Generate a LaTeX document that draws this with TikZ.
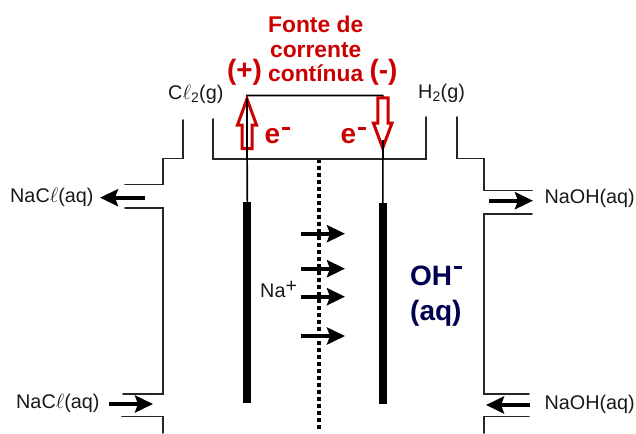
\documentclass[tikz,border=0pt]{standalone}
\usepackage{amsmath,amssymb,amsfonts}
\usepackage{fontspec}
\setmainfont{Liberation Sans}
\usepackage{tikz}
\usetikzlibrary{arrows.meta}
\definecolor{fontered}{RGB}{204,0,0}
\definecolor{ionblue}{RGB}{0,0,80}
\newcommand{\sizept}[1]{\fontsize{#1}{#1}\selectfont}
\newcommand{\bigminus}[1]{\kern1.5pt\raisebox{#1}{\rule{8.5pt}{3.2pt}}}
\tikzset{
  wall/.style={line width=1.6pt, line cap=round, draw=black!85},
  flow/.style={line width=4pt, -{Stealth[length=18pt,width=17pt,inset=3pt]}, shorten >=-1pt},
  hollow/.style={line width=3pt, draw=fontered, fill=white, line join=miter},
  label/.style={inner sep=0pt, text=black!90, font=\sizept{19.8}},
  redbold/.style={inner sep=0pt, text=fontered, font=\bfseries\sizept{28}},
}
\begin{document}
\begin{tikzpicture}[x=1pt,y=-1pt]
\useasboundingbox (0,0) rectangle (636,433);
% electrodes and wires
\coordinate (PT) at (247,95.5);
\coordinate (NT) at (382.7,95.5);
\coordinate (PE) at (247.3,202);
\coordinate (NE) at (382.9,203);
\coordinate (PB) at (247.3,403);
\coordinate (NB) at (382.9,404);
\draw[line width=1.6pt] (PE) -- (PT) -- (NT) -- (NE);
\draw[line width=8pt] (PE) -- (PB);
\draw[line width=7.5pt] (NE) -- (NB);
% membrane
\coordinate (MT) at (319,159);
\coordinate (MB) at (319,431);
\draw[line width=3.8pt, dash pattern=on 3.6pt off 3.4pt] (MT) -- (MB);
% cell walls
\draw[wall] (213,119) -- (213,159) -- (426,159) -- (426,117);
\draw[wall] (182.7,120) -- (182.7,158.5) -- (163,158.5) -- (163,184.5) -- (125,184.5);
\draw[wall] (125,208) -- (163,208) -- (163,394) -- (123,394);
\draw[wall] (122,416.5) -- (163,416.5) -- (163,433);
\draw[wall] (457,117) -- (457,158.5) -- (484,158.5) -- (484,190.5) -- (532,190.5);
\draw[wall] (532,214) -- (484,214) -- (484,394) -- (529,394);
\draw[wall] (529,416.5) -- (484,416.5) -- (484,433);
% flow arrows
\draw[flow] (145,197.7) -- (101,197.7);
\draw[flow] (109,404) -- (152,404);
\draw[flow] (489,200.7) -- (532,200.7);
\draw[flow] (530,405) -- (487,405);
\foreach \ypos in {233.7,268.7,296.7,336}
  \draw[flow] (301,\ypos) -- (344,\ypos);
% electron arrows
\draw[hollow] (247,99) -- (256.5,125) -- (252,125) -- (252,148.5) -- (242,148.5) -- (242,125) -- (237.5,125) -- cycle;
\draw[hollow] (382.7,148) -- (392,123) -- (388,123) -- (388,98) -- (377.8,98) -- (377.8,123) -- (373.4,123) -- cycle;
\draw[line width=1.6pt] (247,98) -- (247,160);
\draw[line width=1.6pt] (382.7,140) -- (382.7,160);
% labels
\node[redbold, font=\bfseries\sizept{22.8}, align=center] (fonte) at (315.7,49) {Fonte de\\[2pt]corrente\\[2pt]contínua};
\node[redbold] (plus) at (244.5,72) {(+)};
\node[redbold] (minus) at (383.5,72) {(-)};
\node[redbold, anchor=base west] (eleft) at (264.5,143) {e\bigminus{13pt}};
\node[redbold, anchor=base west] (eright) at (340.5,143) {e\bigminus{13pt}};
\node[label, anchor=west] (cl) at (168,94) {C$\ell$\textsubscript{2}(g)};
\node[label, anchor=west] (hh) at (418,93) {H\textsubscript{2}(g)};
\node[label, anchor=west] (clout) at (10,197) {NaC$\ell$(aq)};
\node[label, anchor=west] (clin) at (16,403) {NaC$\ell$(aq)};
\node[label, anchor=east] (ohout) at (635,198) {NaOH(aq)};
\node[label, anchor=east] (ohin) at (635,404) {NaOH(aq)};
\node[label, anchor=west] (na) at (260,289) {Na\raisebox{5pt}{+}};
\node[redbold, text=ionblue, anchor=base west] (oh) at (410,285) {OH\bigminus{16pt}};
\node[redbold, text=ionblue, anchor=base west] (aq) at (410,320) {(aq)};
\end{tikzpicture}
\end{document}
